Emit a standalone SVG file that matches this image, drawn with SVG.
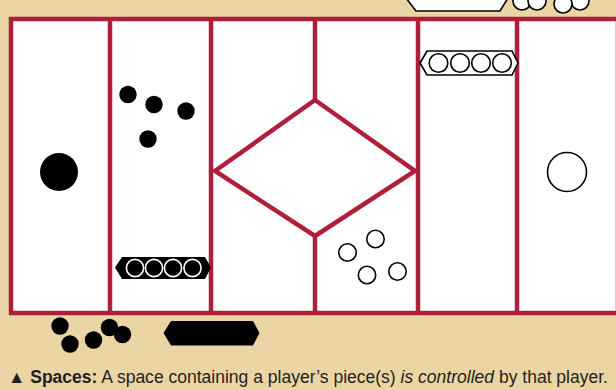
<svg xmlns="http://www.w3.org/2000/svg" width="616" height="390" viewBox="0 0 616 390">
<style>
.frame{fill:none;stroke:#AF1E3B;stroke-width:4.5}
.blk{fill:#000}
.wc{fill:#fff;stroke:#000;stroke-width:1.6}
.wcb{fill:#000;stroke:#fff;stroke-width:1.6}
.cap{font-family:"Liberation Sans",Arial,sans-serif;font-size:17.5px;fill:#231F20}
</style>
<rect width="616" height="390" fill="#ECD5A4"/>
<g id="board">
<rect x="11" y="19" width="607" height="294" fill="#fff"/>
</g>
<g id="connectors">
<rect class="frame" x="11" y="19" width="607" height="294"/>
<line class="frame" x1="110" y1="19" x2="110" y2="313"/>
<line class="frame" x1="211" y1="19" x2="211" y2="313"/>
<line class="frame" x1="315" y1="19" x2="315" y2="100"/>
<line class="frame" x1="315" y1="236" x2="315" y2="313"/>
<line class="frame" x1="418" y1="19" x2="418" y2="313"/>
<line class="frame" x1="517" y1="19" x2="517" y2="313"/>
<polygon class="frame" points="315,100 415,171 315,236 215,171" stroke-linejoin="miter"/>
</g>
<g id="space1">
<circle class="blk" cx="59" cy="172" r="19"/>
</g>
<g id="space2">
<circle class="blk" cx="128" cy="94.5" r="8.7"/>
<circle class="blk" cx="154" cy="104.5" r="8.7"/>
<circle class="blk" cx="186" cy="111" r="8.7"/>
<circle class="blk" cx="148" cy="139" r="8.7"/>
<polygon class="blk" points="115,267.5 122,257 205,257 211,267.5 205,279 122,279"/>
<circle class="wcb" cx="135" cy="268" r="8.6"/>
<circle class="wcb" cx="154" cy="268" r="8.6"/>
<circle class="wcb" cx="173" cy="268" r="8.6"/>
<circle class="wcb" cx="192.5" cy="268" r="8.6"/>
</g>
<g id="space4">
<circle class="wc" cx="347.5" cy="252.5" r="8.7"/>
<circle class="wc" cx="375.5" cy="239" r="8.7"/>
<circle class="wc" cx="367" cy="275" r="8.7"/>
<circle class="wc" cx="397.5" cy="271.5" r="8.7"/>
</g>
<g id="space5">
<polygon class="wc" points="420,63 427,51 512,51 518,63 512,75 427,75"/>
<circle class="wc" cx="438.5" cy="63" r="9.3"/>
<circle class="wc" cx="460" cy="63" r="9.3"/>
<circle class="wc" cx="481" cy="63" r="9.3"/>
<circle class="wc" cx="502" cy="63" r="9.3"/>
</g>
<g id="space6">
<circle class="wc" cx="567" cy="172" r="19.5"/>
</g>
<g id="top-pieces">
<polygon class="wc" points="406,-2 416,-14 500,-14 508,-2 500,11 416,11"/>
<circle class="wc" cx="522" cy="1" r="9"/>
<circle class="wc" cx="537" cy="1" r="9"/>
<circle class="wc" cx="580" cy="1" r="9"/>
<circle class="wc" cx="563" cy="4" r="9"/>
</g>
<g id="bottom-pieces">
<circle class="blk" cx="60" cy="326" r="8.7"/>
<circle class="blk" cx="70" cy="344" r="8.7"/>
<circle class="blk" cx="93.5" cy="340" r="8.7"/>
<circle class="blk" cx="109.5" cy="327.5" r="8.7"/>
<circle class="blk" cx="122.5" cy="334.5" r="8.7"/>
<polygon class="blk" points="163.5,333 171,321 253,321 259.5,333 253,345.5 171,345.5"/>
</g>
<text class="cap" x="8" y="383" textLength="600" lengthAdjust="spacingAndGlyphs">▲ <tspan font-weight="bold">Spaces:</tspan> A space containing a player’s piece(s) <tspan font-style="italic">is controlled</tspan> by that player.</text>
</svg>
